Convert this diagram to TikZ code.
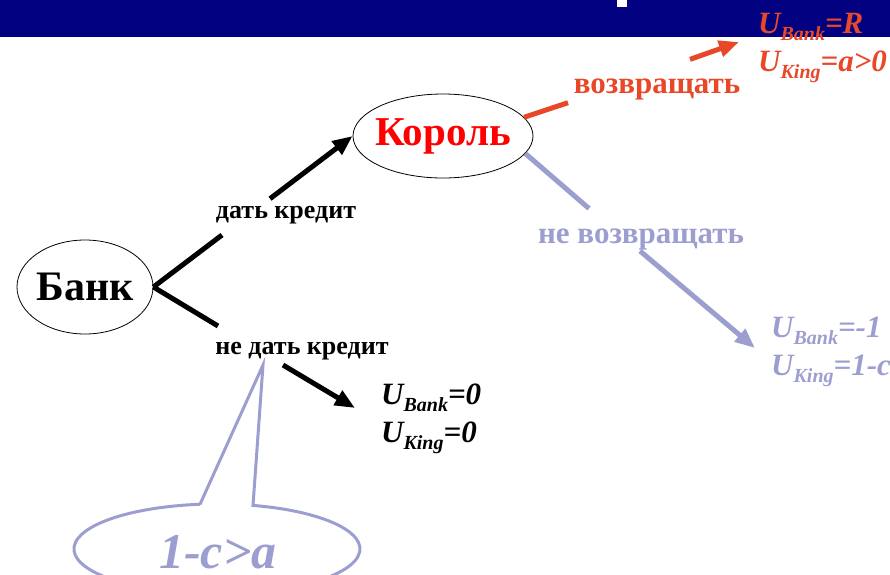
\documentclass[tikz,border=0pt]{standalone}
\usepackage{fontspec}
\setmainfont{Liberation Serif}
\usetikzlibrary{shapes.geometric,arrows.meta}
\definecolor{navyband}{RGB}{0,0,128}
\definecolor{kingred}{RGB}{255,0,0}
\definecolor{payred}{RGB}{232,72,40}
\definecolor{lav}{RGB}{156,158,208}
\newcommand{\Usb}[1]{U\raisebox{-7pt}{\fontsize{20}{20}\selectfont #1}}
\begin{document}
\begin{tikzpicture}[x=1pt,y=-1pt,
  player/.style={draw=black, line width=0.8pt, ellipse, inner sep=0pt},
  movelabel/.style={font=\fontsize{26}{30}\selectfont\bfseries, anchor=base, inner sep=0pt},
  biglabel/.style={font=\fontsize{31}{31}\selectfont\bfseries, anchor=base, inner sep=0pt},
  payoff/.style={font=\fontsize{31}{38}\selectfont\bfseries\itshape, align=left, anchor=north west, inner sep=0pt},
  branch/.style={line width=5pt},
  tip/.style={-{Triangle[length=20pt,width=16pt]}},
]
\useasboundingbox (0,0) rectangle (890,574);
\clip (0,0) rectangle (890,574);
\fill[navyband] (0,0) rectangle (890,37);
\fill[white] (617,0) rectangle (627,7);

% players
\node[player, minimum width=136pt, minimum height=94pt, font=\fontsize{42}{42}\selectfont\bfseries] (bank) at (85,287) {\makebox[0pt][c]{Банк}};
\node[player, minimum width=180pt, minimum height=84pt, text=kingred, font=\fontsize{41}{41}\selectfont\bfseries] (king) at (443,136) {\makebox[0pt][c]{Король}};

% move labels
\node[movelabel] (give) at (286,218) {дать кредит};
\node[movelabel] (nogive) at (302,354) {не дать кредит};
\node[biglabel, text=payred] (ret) at (657,93) {возвращать};
\node[biglabel, text=lav] (noret) at (641,243) {не возвращать};

% payoffs
\node[payoff] (pay0) at (381,384) {\Usb{Bank}=0\\\Usb{King}=0};
\node[payoff, text=payred] (payR) at (758,13) {\Usb{Bank}=R\\\Usb{King}=a>0};
\node[payoff, text=lav] (payD) at (771,317) {\Usb{Bank}=-1\\\Usb{King}=1-c};

% gap coordinates and tips
\coordinate (g1) at (222,235);
\coordinate (g2) at (270,198.7);
\coordinate (h1) at (218,326);
\coordinate (h2) at (283,365);
\coordinate (tip0) at (355,408);
\coordinate (r1) at (568,102.7);
\coordinate (r2) at (690,59.4);
\coordinate (tipR) at (739,42);
\coordinate (b1) at (589,208.5);
\coordinate (b2) at (640,251);
\coordinate (tipD) at (755,348);

% branches
\draw[branch] (bank.east) -- (g1);
\draw[branch, tip] (g2) -- (king.west);
\draw[branch] (bank.east) -- (h1);
\draw[branch, tip] (h2) -- (tip0);
\draw[branch, payred] (king.13) -- (r1);
\draw[branch, payred, tip] (r2) -- (tipR);
\draw[branch, lav] (king.-12) -- (b1);
\draw[branch, lav, tip] (b2) -- (tipD);

% callout
\coordinate (apex) at (263,365);
\draw[lav, line width=3pt, line join=miter] (200,504.3) -- (apex) -- (253,505.4)
  arc[start angle=-75.4, end angle=263.2, x radius=143, y radius=45];
\node[font=\fontsize{50}{50}\selectfont\bfseries\itshape, text=lav, anchor=base, inner sep=0pt] (cond) at (218,568) {1-c>a};
\end{tikzpicture}
\end{document}
